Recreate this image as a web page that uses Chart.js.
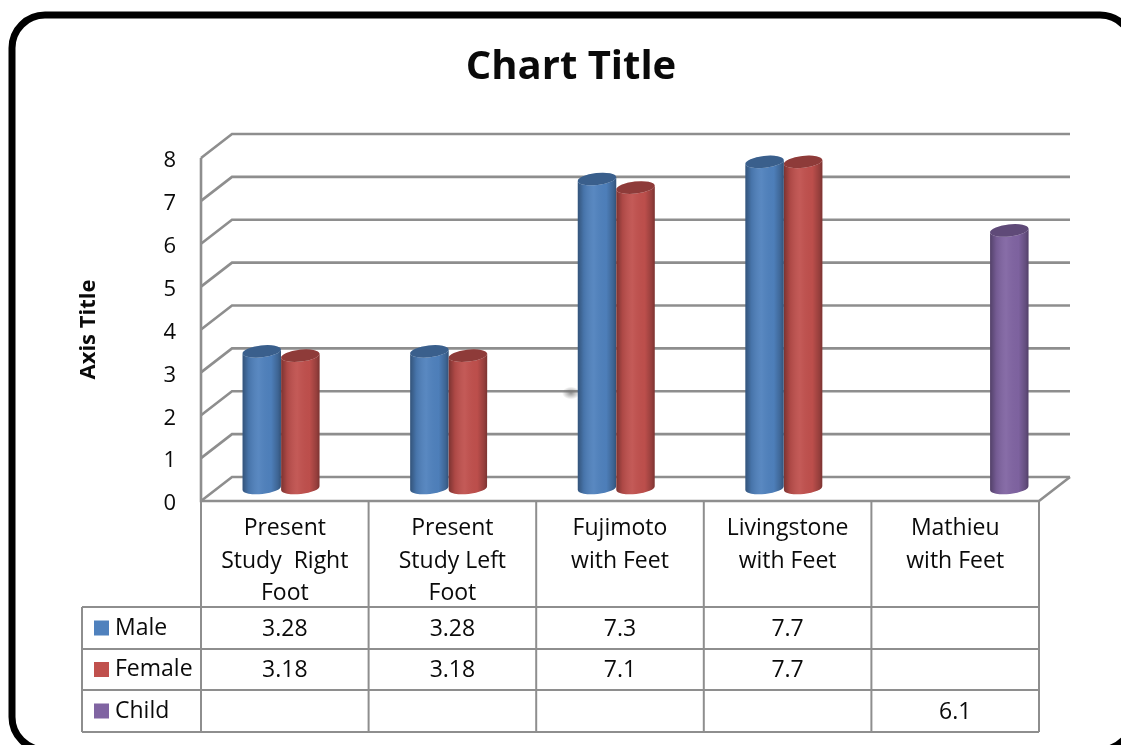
<!DOCTYPE html>
<html>
<head>
<meta charset="utf-8">
<style>
  html, body { margin: 0; padding: 0; background: #fff; overflow: hidden; }
  canvas { display: block; }
</style>
<script src="https://cdn.jsdelivr.net/npm/chart.js@4"></script>
</head>
<body>
<canvas id="myChart" width="1121" height="745"></canvas>
<script>
const categories = [
  ['Present', 'Study  Right', 'Foot'],
  ['Present', 'Study Left', 'Foot'],
  ['Fujimoto', 'with Feet'],
  ['Livingstone', 'with Feet'],
  ['Mathieu', 'with Feet']
];
const seriesNames = ['Male', 'Female', 'Child'];
const maleValues = [3.28, 3.28, 7.3, 7.7, null];
const femaleValues = [3.18, 3.18, 7.1, 7.7, null];
const childValues = [null, null, null, null, 6.1];
const seriesColors = ['#4F81BD', '#C0504D', '#8064A2'];
const allValues = [maleValues, femaleValues, childValues];

const FONT = '"Open Sans", sans-serif';
const LINE = '#8e8e8e';
const INK = '#0a0a0a';
// floor/wall depth of the fake 3d box
const DEPTH_X = 31;
const DEPTH_Y = -24;

// rounded black frame, runs off the right and bottom edges
const framePlugin = {
  id: 'frame',
  beforeDraw(chart) {
    const c = chart.ctx;
    c.save();
    c.fillStyle = '#fff';
    c.fillRect(0, 0, chart.width, chart.height);
    c.strokeStyle = '#000';
    c.lineWidth = 7;
    c.beginPath();
    c.roundRect(12, 15, 1121, 735, 33);
    c.stroke();
    c.restore();
  }
};

// walls and floor, gridlines come from the y scale ticks
const boxPlugin = {
  id: 'box3d',
  beforeDatasetsDraw(chart) {
    const c = chart.ctx;
    const y = chart.scales.y;
    const x = chart.scales.x;
    c.save();
    c.strokeStyle = LINE;
    c.lineWidth = 2.6;
    c.lineJoin = 'miter';
    y.ticks.forEach(t => {
      const py = y.getPixelForValue(t.value);
      c.beginPath();
      c.moveTo(x.left, py);
      c.lineTo(x.left + DEPTH_X, py + DEPTH_Y);
      c.lineTo(x.right + DEPTH_X, py + DEPTH_Y);
      c.stroke();
    });
    c.beginPath();
    c.moveTo(x.left, y.top);
    c.lineTo(x.left, y.bottom);
    c.lineTo(x.right, y.bottom);
    c.lineTo(x.right + DEPTH_X, y.bottom + DEPTH_Y);
    c.stroke();
    // small grey smudge on the back wall
    const g = c.createRadialGradient(0, 0, 0, 0, 0, 9);
    g.addColorStop(0, 'rgba(110,110,110,0.75)');
    g.addColorStop(1, 'rgba(110,110,110,0)');
    c.translate(571, 393);
    c.scale(1, 0.7);
    c.fillStyle = g;
    c.beginPath();
    c.arc(0, 0, 9, 0, Math.PI * 2);
    c.fill();
    c.restore();
  }
};

function drawCylinder(c, bar, color) {
  const rx = bar.width / 2;
  const ry = 6;
  const tilt = -0.11;
  const cx = bar.x + DEPTH_X / 2;
  const topY = bar.y + DEPTH_Y / 2 + 3;
  const baseY = bar.base + DEPTH_Y / 2 - 1;
  const dy = rx * Math.sin(tilt);

  c.save();
  c.beginPath();
  c.ellipse(cx, baseY, rx, ry, tilt, Math.PI, 0, true);
  c.lineTo(cx + rx, topY + dy);
  c.ellipse(cx, topY, rx, ry, tilt, 0, Math.PI, false);
  c.closePath();
  c.fillStyle = color;
  c.fill();

  const shade = c.createLinearGradient(cx - rx, 0, cx + rx, 0);
  shade.addColorStop(0, 'rgba(0,0,0,0.36)');
  shade.addColorStop(0.16, 'rgba(0,0,0,0.10)');
  shade.addColorStop(0.42, 'rgba(255,255,255,0.06)');
  shade.addColorStop(0.74, 'rgba(0,0,0,0.02)');
  shade.addColorStop(0.92, 'rgba(0,0,0,0.22)');
  shade.addColorStop(1, 'rgba(0,0,0,0.36)');
  c.fillStyle = shade;
  c.fill();

  c.beginPath();
  c.ellipse(cx, topY, rx, ry, tilt, 0, Math.PI * 2);
  c.fillStyle = color;
  c.fill();
  c.fillStyle = 'rgba(0,0,0,0.26)';
  c.fill();
  c.restore();
}

// bars are replaced by cylinders, drawn first series first so red sits on blue
const cylinderPlugin = {
  id: 'cylinders',
  beforeDatasetDraw() {
    return false;
  },
  afterDatasetsDraw(chart) {
    chart.data.datasets.forEach((ds, i) => {
      chart.getDatasetMeta(i).data.forEach((bar, j) => {
        if (ds.data[j] !== null) drawCylinder(chart.ctx, bar, ds.backgroundColor);
      });
    });
  }
};

// data table under the chart
const tablePlugin = {
  id: 'dataTable',
  afterDraw(chart) {
    const c = chart.ctx;
    const x = chart.scales.x;
    const y = chart.scales.y;
    const rowTops = [607, 649, 690, 732];
    const legendLeft = 82;
    const colW = (x.right - x.left) / categories.length;

    c.save();
    c.strokeStyle = LINE;
    c.lineWidth = 2;
    for (let i = 0; i <= categories.length; i++) {
      const px = x.left + i * colW;
      c.beginPath();
      c.moveTo(px, y.bottom);
      c.lineTo(px, rowTops[3]);
      c.stroke();
    }
    rowTops.forEach(ry => {
      c.beginPath();
      c.moveTo(legendLeft, ry);
      c.lineTo(x.right, ry);
      c.stroke();
    });
    c.beginPath();
    c.moveTo(legendLeft, rowTops[0]);
    c.lineTo(legendLeft, rowTops[3]);
    c.stroke();

    c.font = '23px ' + FONT;
    c.textBaseline = 'middle';
    seriesNames.forEach((name, r) => {
      const mid = (rowTops[r] + rowTops[r + 1]) / 2;
      c.fillStyle = seriesColors[r];
      c.fillRect(94, mid - 7.5, 15, 15);
      c.fillStyle = INK;
      c.textAlign = 'left';
      c.fillText(name, 115, mid);
      c.textAlign = 'center';
      allValues[r].forEach((v, k) => {
        if (v !== null) c.fillText(String(v), x.left + (k + 0.5) * colW, mid + 1);
      });
    });
    c.restore();
  }
};

const ctx = document.getElementById('myChart');
const myChart = new Chart(ctx, {
  type: 'bar',
  data: {
    labels: categories,
    datasets: seriesNames.map((name, i) => ({
      label: name,
      data: allValues[i],
      backgroundColor: seriesColors[i],
      categoryPercentage: 0.69,
      barPercentage: 1
    }))
  },
  plugins: [
    framePlugin,
    boxPlugin,
    cylinderPlugin,
    tablePlugin,
    {
      id: 'titleShift',
      // centre the heading over the frame rather than the padded layout
      afterLayout(chart) {
        chart.titleBlock.left += 27;
      }
    }
  ],
  options: {
    responsive: false,
    animation: false,
    events: [],
    layout: { padding: { left: 76, right: 82, top: 0, bottom: 139 } },
    plugins: {
      legend: { display: false },
      tooltip: { enabled: false },
      title: {
        display: true,
        text: 'Chart Title',
        color: INK,
        font: { family: FONT, size: 40, weight: 'bold', lineHeight: 1.2 },
        padding: { top: 44, bottom: 66 }
      }
    },
    scales: {
      x: {
        afterFit(scale) { scale.height = 105; },
        grid: { display: false, drawTicks: false },
        border: { display: false },
        ticks: {
          autoSkip: false,
          maxRotation: 0,
          padding: 11,
          color: INK,
          font: { family: FONT, size: 23, lineHeight: 1.42 }
        }
      },
      y: {
        min: 0,
        max: 8,
        afterFit(scale) { scale.width = 125; },
        grid: { display: false, drawTicks: false },
        border: { display: false },
        title: {
          display: true,
          text: 'Axis Title',
          color: INK,
          padding: 0,
          font: { family: FONT, size: 22, weight: 'bold', lineHeight: 1.2 }
        },
        ticks: {
          stepSize: 1,
          padding: 25,
          labelOffset: 3,
          color: INK,
          font: { family: FONT, size: 22 }
        }
      }
    }
  }
});
</script>
</body>
</html>
